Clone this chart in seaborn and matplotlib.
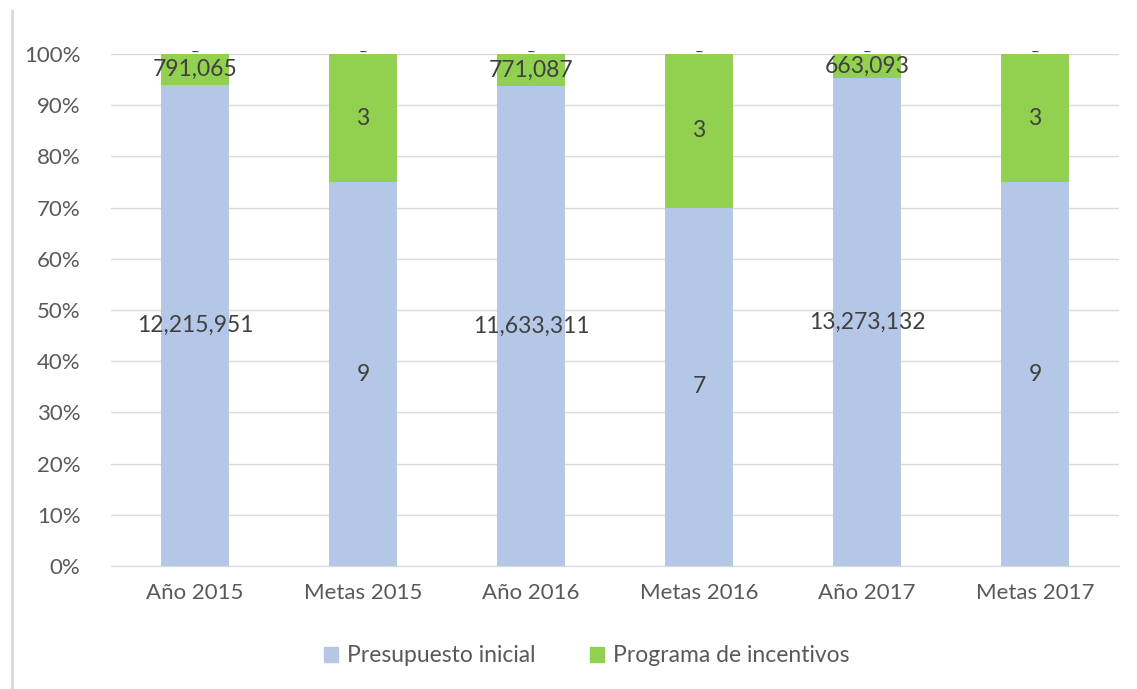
import matplotlib.pyplot as plt
import matplotlib.lines as mlines
import matplotlib.patches as mpatches
from matplotlib.ticker import FuncFormatter
import seaborn as sns
import pandas as pd

categories = ['Año 2015', 'Metas 2015', 'Año 2016', 'Metas 2016', 'Año 2017', 'Metas 2017']
presupuesto = [12215951, 9, 11633311, 7, 13273132, 9]
incentivos = [791065, 3, 771087, 3, 663093, 3]
presupuesto_labels = ['12,215,951', '9', '11,633,311', '7', '13,273,132', '9']
incentivos_labels = ['791,065', '3', '771,087', '3', '663,093', '3']

BLUE = '#B4C7E7'
GREEN = '#92D050'
TXT = '#404040'

df = pd.DataFrame({'cat': categories, 'pres': presupuesto, 'inc': incentivos})
df['total'] = df['pres'] + df['inc']
df['pres_pct'] = df['pres'] / df['total'] * 100
df['tot_pct'] = 100.0

sns.set_style('white')
plt.rcParams['font.family'] = ['Lato', 'DejaVu Sans']

fig = plt.figure(figsize=(11.37, 6.89), dpi=100)
ax = fig.add_axes([0.0976, 0.1785, 0.8866, 0.7431])

sns.barplot(data=df, x='cat', y='tot_pct', color=GREEN, width=0.405,
            saturation=1, linewidth=0, ax=ax, zorder=2)
sns.barplot(data=df, x='cat', y='pres_pct', color=BLUE, width=0.405,
            saturation=1, linewidth=0, ax=ax, zorder=3)

# data labels
for i, row in df.iterrows():
    ax.text(i, row['pres_pct'] / 2, presupuesto_labels[i], ha='center', va='center',
            fontsize=16.5, color=TXT, zorder=5)
    mid = (row['pres_pct'] + 100) / 2
    ax.text(i, mid, incentivos_labels[i], ha='center', va='center',
            fontsize=16.5, color=TXT, zorder=5)
    ax.text(i, 100.2, '–', ha='center', va='center', fontsize=11, color=TXT, zorder=5)

ax.set_ylim(0, 100)
ax.set_xlim(-0.5, len(categories) - 0.5)
ax.set_yticks(range(0, 101, 10))
ax.yaxis.set_major_formatter(FuncFormatter(lambda v, p: f'{int(v)}%'))
ax.grid(axis='y', color='#D9D9D9', linewidth=1, zorder=0)
ax.set_axisbelow(True)
ax.set_xlabel('')
ax.set_ylabel('')
for s in ['top', 'right', 'left']:
    ax.spines[s].set_visible(False)
ax.spines['bottom'].set_color('#D9D9D9')
ax.tick_params(axis='both', length=0, labelsize=16, colors='#595959', pad=12)
ax.tick_params(axis='y', pad=22)

handles = [mpatches.Patch(color=BLUE, label='Presupuesto inicial'),
           mpatches.Patch(color=GREEN, label='Programa de incentivos')]
fig.legend(handles=handles, loc='center', bbox_to_anchor=(0.516, 0.048), ncol=2,
           frameon=False, fontsize=16.5, labelcolor='#595959', handlelength=0.6,
           handleheight=0.6, handletextpad=0.4, columnspacing=2.4)

# chart frame left border
fig.add_artist(mlines.Line2D([0.0105, 0.0105], [0.0, 0.985], color='#D9D9D9', linewidth=2))

fig.savefig('out.png', dpi=100)
